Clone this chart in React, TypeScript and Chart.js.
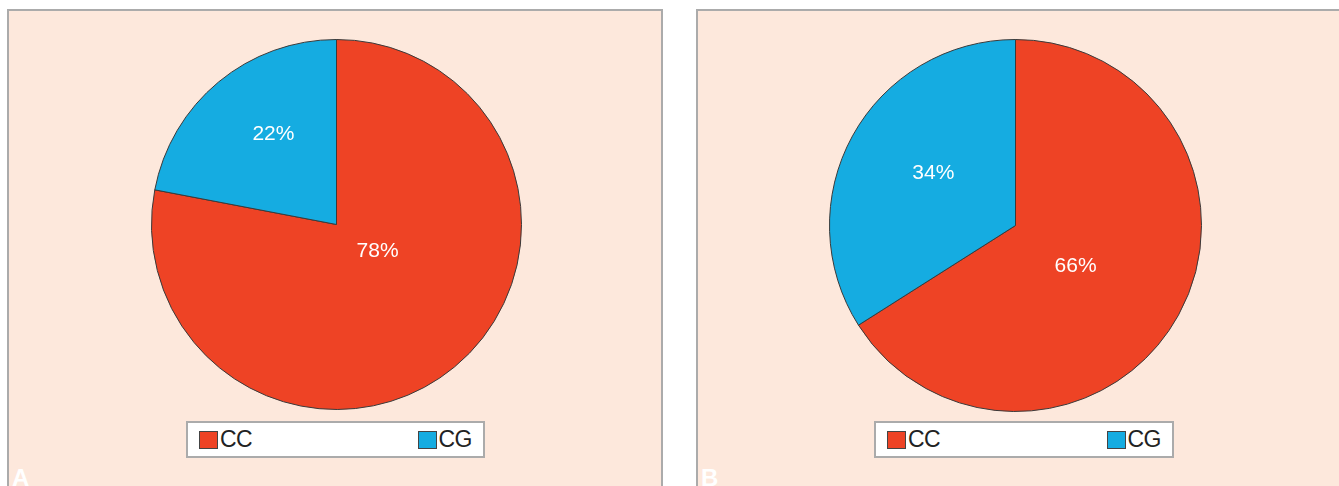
import React, { useEffect, useRef } from "react";
import { Chart, registerables } from "chart.js";

Chart.register(...registerables);

const categories = ["CC", "CG"];
const panelAValues = [78, 22];
const panelBValues = [66, 34];
const panelLetters = ["A", "B"];

const RED = "#ee4325";
const BLUE = "#15ace1";
const colors = [RED, BLUE];

type PanelCfg = {
  letter: string;
  values: number[];
  panel: { left: number; top: number; width: number; height: number };
  pie: { left: number; top: number; size: number };
  legend: { left: number; top: number; width: number; height: number };
  labelOffsets: [number, number][];
};

const panels: PanelCfg[] = [
  {
    letter: panelLetters[0],
    values: panelAValues,
    panel: { left: 7, top: 9, width: 656, height: 520 },
    pie: { left: 151, top: 39, size: 371 },
    legend: { left: 186, top: 421, width: 299, height: 37 },
    labelOffsets: [
      [0.222, 0.146],
      [-0.341, -0.488],
    ],
  },
  {
    letter: panelLetters[1],
    values: panelBValues,
    panel: { left: 696, top: 9, width: 700, height: 520 },
    pie: { left: 829, top: 39, size: 373 },
    legend: { left: 874, top: 421, width: 300, height: 37 },
    labelOffsets: [
      [0.323, 0.218],
      [-0.442, -0.283],
    ],
  },
];

function PieChart({ cfg }: { cfg: PanelCfg }) {
  const ref = useRef<HTMLCanvasElement | null>(null);
  useEffect(() => {
    if (!ref.current) return;
    const labelPlugin = {
      id: "pctLabels",
      afterDatasetsDraw(chart: any) {
        const meta = chart.getDatasetMeta(0);
        const ctx = chart.ctx;
        ctx.save();
        ctx.fillStyle = "#ffffff";
        ctx.font = '21px "Liberation Sans", Arial, sans-serif';
        ctx.textAlign = "center";
        ctx.textBaseline = "middle";
        meta.data.forEach((arc: any, i: number) => {
          const r = arc.outerRadius;
          const off = cfg.labelOffsets[i];
          const x = arc.x + r * off[0];
          const y = arc.y + r * off[1];
          ctx.fillText(cfg.values[i] + "%", x, y);
        });
        ctx.restore();
      },
    };
    const chart = new Chart(ref.current, {
      type: "pie",
      data: {
        labels: categories,
        datasets: [
          {
            data: cfg.values,
            backgroundColor: colors,
            borderColor: "#3a3a3a",
            borderWidth: 1,
          },
        ],
      },
      options: {
        animation: false,
        responsive: false,
        maintainAspectRatio: false,
        layout: { padding: 0 },
        plugins: {
          legend: { display: false },
          tooltip: { enabled: false },
        },
      },
      plugins: [labelPlugin],
    });
    return () => chart.destroy();
  }, [cfg]);
  return (
    <canvas
      ref={ref}
      width={cfg.pie.size}
      height={cfg.pie.size}
      style={{
        position: "absolute",
        left: cfg.pie.left,
        top: cfg.pie.top,
        width: cfg.pie.size,
        height: cfg.pie.size,
      }}
    />
  );
}

function Legend({ cfg }: { cfg: PanelCfg }) {
  return (
    <div
      style={{
        position: "absolute",
        left: cfg.legend.left,
        top: cfg.legend.top,
        width: cfg.legend.width,
        height: cfg.legend.height,
        boxSizing: "border-box",
        border: "2px solid #ababab",
        background: "#ffffff",
        display: "flex",
        alignItems: "center",
        justifyContent: "space-between",
        padding: "0 11px 0 11px",
        fontFamily: '"Liberation Sans", Arial, sans-serif',
        fontSize: 23,
        color: "#222222",
      }}
    >
      {categories.map((c, i) => (
        <div key={c} style={{ display: "flex", alignItems: "center" }}>
          <div
            style={{
              width: 19,
              height: 18,
              boxSizing: "border-box",
              border: "1.5px solid #444444",
              background: colors[i],
              marginRight: 2,
            }}
          />
          <span style={{ lineHeight: "23px", letterSpacing: -0.5 }}>{c}</span>
        </div>
      ))}
    </div>
  );
}

export default function App() {
  return (
    <div
      style={{
        position: "fixed",
        left: 0,
        top: 0,
        width: 1339,
        height: 486,
        overflow: "hidden",
        background: "#ffffff",
      }}
    >
      {panels.map((p) => (
        <React.Fragment key={p.letter}>
          <div
            style={{
              position: "absolute",
              left: p.panel.left,
              top: p.panel.top,
              width: p.panel.width,
              height: p.panel.height,
              boxSizing: "border-box",
              border: "2px solid #ababab",
              background: "#fde8dc",
            }}
          />
          <div
            style={{
              position: "absolute",
              left: p.panel.left + 5,
              top: 466,
              color: "#ffffff",
              fontFamily: '"Liberation Sans", Arial, sans-serif',
              fontWeight: "bold",
              fontSize: 24,
              lineHeight: "24px",
            }}
          >
            {p.letter}
          </div>
          <PieChart cfg={p} />
          <Legend cfg={p} />
        </React.Fragment>
      ))}
    </div>
  );
}
